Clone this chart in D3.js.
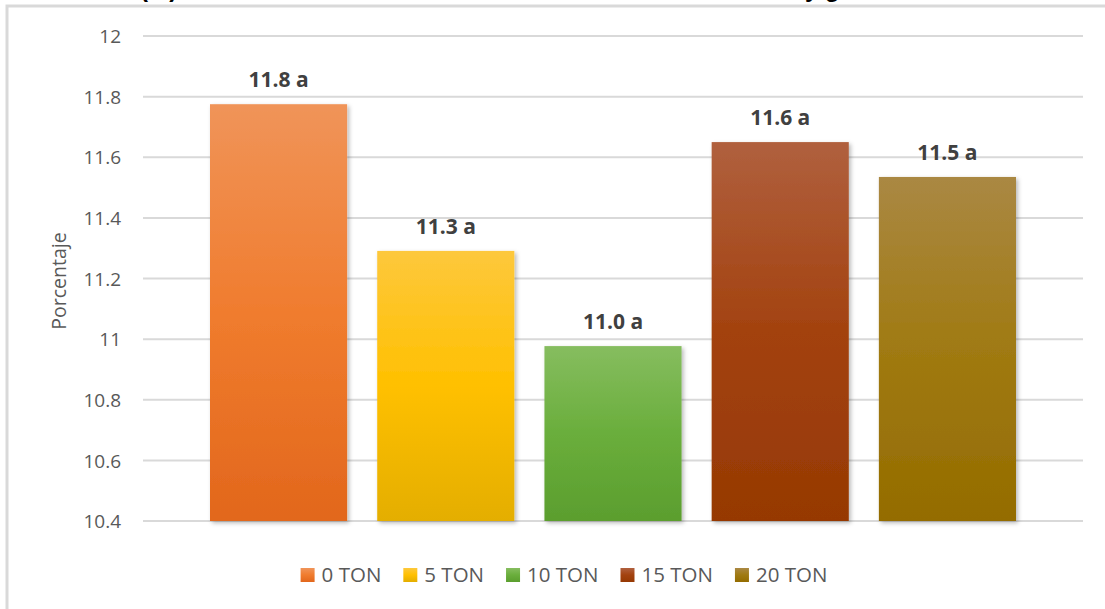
<!DOCTYPE html>
<html><head><meta charset="utf-8">
<script src="https://cdn.jsdelivr.net/npm/d3@7"></script>
<style>
html,body{margin:0;padding:0;background:#fff;overflow:hidden}
svg{display:block}
</style></head>
<body>
<script>
const categories = ["0 TON","5 TON","10 TON","15 TON","20 TON"];
const values = [11.775, 11.291, 10.977, 11.650, 11.535];
const labels = ["11.8 a","11.3 a","11.0 a","11.6 a","11.5 a"];
const yTicks = [10.4,10.6,10.8,11,11.2,11.4,11.6,11.8,12];
const gradStops = [
  ["#f09459","#f07c2e","#e2671c"],
  ["#fdc83c","#ffc000","#e4ae00"],
  ["#86bd5f","#6aae3c","#5b9e2e"],
  ["#b0603e","#a3420f","#963903"],
  ["#aa8843","#a07a12","#946c00"]
];

const W=1105,H=609;
const svg=d3.select("body").append("svg").attr("width",W).attr("height",H);
const defs=svg.append("defs");
const f=defs.append("filter").attr("id","sh").attr("x","-10%").attr("y","-10%").attr("width","130%").attr("height","130%");
f.append("feDropShadow").attr("dx",2).attr("dy",2).attr("stdDeviation",2).attr("flood-color","#000").attr("flood-opacity",0.28);
gradStops.forEach((s,i)=>{
  const g=defs.append("linearGradient").attr("id","g"+i).attr("x1",0).attr("y1",0).attr("x2",0).attr("y2",1);
  g.append("stop").attr("offset","0%").attr("stop-color",s[0]);
  g.append("stop").attr("offset","50%").attr("stop-color",s[1]);
  g.append("stop").attr("offset","100%").attr("stop-color",s[2]);
});

// chart border
svg.append("path").attr("d","M7,"+(H+10)+"V6H"+(W+10)).attr("fill","none").attr("stroke","#d9d9d9").attr("stroke-width",3);

// partially visible title glyphs (cut off at the top edge, as in the reference)
svg.append("text").attr("x",140).attr("y",-3).attr("font-family","Liberation Sans, Arial").attr("font-weight","bold").attr("font-size",24).attr("fill","#000").text("(%)");
svg.append("text").attr("x",805).attr("y",-3).attr("font-family","Liberation Sans, Arial").attr("font-weight","bold").attr("font-size",24).attr("fill","#000").text("y    g");

const y=d3.scaleLinear().domain([10.4,12]).range([521,36]);
const x=d3.scaleBand().domain(categories).range([210,1016]).paddingInner(0.18).paddingOuter(0);

const font="Open Sans, Noto Sans, sans-serif";
// grid
svg.append("g").selectAll("line").data(yTicks).join("line")
  .attr("x1",143).attr("x2",1083).attr("y1",d=>y(d)).attr("y2",d=>y(d))
  .attr("stroke","#d9d9d9").attr("stroke-width",2);
// y axis labels
const yAxis=d3.axisLeft(y).tickValues(yTicks).tickSize(0).tickPadding(0).tickFormat(d=>String(d));
const ya=svg.append("g").attr("transform","translate(121,0)").call(yAxis);
ya.select(".domain").remove();
ya.selectAll("text").attr("font-family",font).attr("font-size",19).attr("fill","#595959").attr("dy","0.35em");

svg.append("text").attr("transform","translate(66,281) rotate(-90)").attr("text-anchor","middle")
  .attr("font-family",font).attr("font-size",19.5).attr("fill","#595959").text("Porcentaje");

// bars
svg.append("g").selectAll("rect").data(values).join("rect")
  .attr("x",(d,i)=>x(categories[i])).attr("width",x.bandwidth())
  .attr("y",d=>y(d)).attr("height",d=>y(10.4)-y(d))
  .attr("fill",(d,i)=>"url(#g"+i+")").attr("filter","url(#sh)");

svg.append("g").selectAll("text").data(values).join("text")
  .attr("x",(d,i)=>x(categories[i])+x.bandwidth()/2).attr("y",d=>y(d)-17)
  .attr("text-anchor","middle").attr("font-family",font).attr("font-weight","bold")
  .attr("font-size",21).attr("fill","#404040").text((d,i)=>labels[i]);

// legend
const lg=svg.append("g");
const items=lg.selectAll("g").data(categories).join("g");
items.append("rect").attr("width",14).attr("height",14).attr("y",-7).attr("fill",(d,i)=>"url(#g"+i+")");
items.append("text").attr("x",21).attr("dy","0.35em").attr("font-family",font).attr("font-size",20.5).attr("fill","#595959").text(d=>d);
const gap=22;
const widths=items.nodes().map(n=>21+n.querySelector("text").getComputedTextLength());
const total=d3.sum(widths)+gap*(widths.length-1);
let start=564-total/2;
items.attr("transform",(d,i)=>{const t="translate("+start+",575)"; start+=widths[i]+gap; return t;});
</script>
</body></html>
